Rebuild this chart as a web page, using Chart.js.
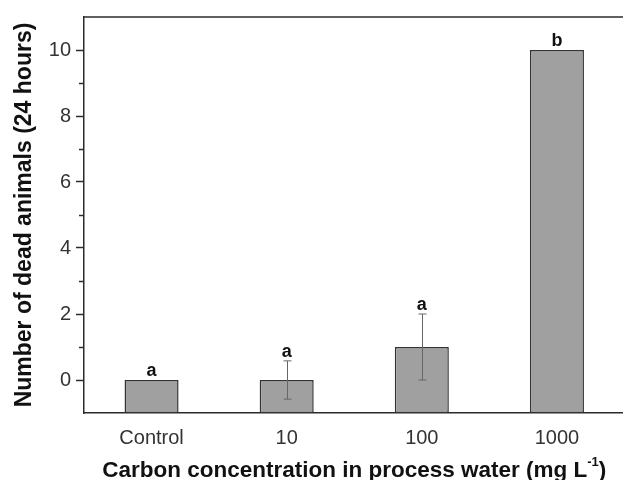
<!DOCTYPE html>
<html>
<head>
<meta charset="utf-8">
<script src="https://cdn.jsdelivr.net/npm/chart.js@4.4.0/dist/chart.umd.min.js"></script>
<style>
  html, body { margin: 0; padding: 0; background: #fff; overflow: hidden; }
  #wrap { width: 623px; height: 480px; overflow: hidden; }
</style>
</head>
<body>
<div id="wrap"><canvas id="deaths" width="630" height="480"></canvas></div>
<script>
// values
const categories = ['Control', '10', '100', '1000'];
const deadAnimals = [0, 0, 1, 10];
const errors = [0, 0.58, 1, 0];
const groupLetters = ['a', 'a', 'a', 'b'];
const yTicks = [0, 2, 4, 6, 8, 10];

const FONT = "'Liberation Sans', Arial, sans-serif";
const AXIS = '#2b2b2b';

// error bars, letters, minor ticks, top frame and the x title with superscript
const extras = {
  id: 'extras',
  afterDatasetsDraw(chart) {
    const ctx = chart.ctx;
    const x = chart.scales.x, y = chart.scales.y;
    const area = chart.chartArea;
    ctx.save();

    // error bars
    ctx.strokeStyle = '#666';
    ctx.lineWidth = 1;
    deadAnimals.forEach((v, i) => {
      if (!errors[i]) return;
      const cx = Math.round(x.getPixelForValue(i)) + 0.5;
      const top = y.getPixelForValue(v + errors[i]);
      const bot = y.getPixelForValue(v - errors[i]);
      ctx.beginPath();
      ctx.moveTo(cx, top); ctx.lineTo(cx, bot);
      ctx.moveTo(cx - 4, top); ctx.lineTo(cx + 4, top);
      ctx.moveTo(cx - 4, bot); ctx.lineTo(cx + 4, bot);
      ctx.stroke();
    });

    // significance letters
    ctx.fillStyle = '#111';
    ctx.font = 'bold 18px ' + FONT;
    ctx.textAlign = 'center';
    ctx.textBaseline = 'alphabetic';
    deadAnimals.forEach((v, i) => {
      const top = y.getPixelForValue(v + errors[i]);
      ctx.fillText(groupLetters[i], x.getPixelForValue(i), top - 4);
    });

    // minor ticks on y
    ctx.strokeStyle = AXIS;
    ctx.lineWidth = 1.5;
    for (let t = 1; t < 10; t += 2) {
      const py = Math.round(y.getPixelForValue(t)) + 0.5;
      ctx.beginPath();
      ctx.moveTo(area.left - 5, py); ctx.lineTo(area.left, py);
      ctx.stroke();
    }

    // top frame line
    ctx.beginPath();
    ctx.moveTo(area.left, area.top); ctx.lineTo(area.right, area.top);
    ctx.stroke();

    // x axis title with superscript
    const main = 'Carbon concentration in process water (mg L';
    const sup = '-1';
    const end = ')';
    const big = 'bold 22.5px ' + FONT, small = 'bold 13px ' + FONT;
    ctx.font = big;
    const wMain = ctx.measureText(main).width;
    const wEnd = ctx.measureText(end).width;
    ctx.font = small;
    const wSup = ctx.measureText(sup).width;
    const total = wMain + wSup + wEnd;
    let tx = (area.left + area.right) / 2 - total / 2;
    const ty = 477;
    ctx.textAlign = 'left';
    ctx.fillStyle = '#111';
    ctx.font = big;
    ctx.fillText(main, tx, ty);
    tx += wMain;
    ctx.font = small;
    ctx.fillText(sup, tx, ty - 11);
    tx += wSup;
    ctx.font = big;
    ctx.fillText(end, tx, ty);

    ctx.restore();
  }
};

new Chart(document.getElementById('deaths'), {
  type: 'bar',
  data: {
    labels: categories,
    datasets: [{
      label: 'Dead animals',
      data: deadAnimals,
      base: -1,
      backgroundColor: '#a0a0a0',
      borderColor: '#333',
      borderWidth: 1.5,
      borderSkipped: false,
      barPercentage: 0.4,
      categoryPercentage: 1
    }]
  },
  options: {
    responsive: false,
    animation: false,
    layout: { padding: { top: 16, right: 5.5, bottom: 0, left: 0 } },
    plugins: {
      legend: { display: false },
      tooltip: { enabled: false }
    },
    scales: {
      x: {
        afterFit: s => { s.height = 67; },
        grid: { display: true, drawOnChartArea: false, drawTicks: false },
        border: { display: true, color: AXIS, width: 1.5 },
        ticks: { color: '#333', padding: 13, font: { family: FONT, size: 20 } }
      },
      y: {
        min: -1,
        max: 11,
        afterFit: s => { s.width = 84; },
        afterBuildTicks: s => { s.ticks = yTicks.map(v => ({ value: v })); },
        grid: { display: true, drawOnChartArea: false, tickLength: 8, tickColor: AXIS, tickWidth: 1.5 },
        border: { display: true, color: AXIS, width: 1.5 },
        ticks: { color: '#333', padding: 5, font: { family: FONT, size: 20 } },
        title: {
          display: true,
          text: 'Number of dead animals (24 hours)',
          color: '#111',
          padding: { top: 11, bottom: 0 },
          font: { family: FONT, size: 23, weight: 'bold' }
        }
      }
    }
  },
  plugins: [extras]
});
</script>
</body>
</html>
